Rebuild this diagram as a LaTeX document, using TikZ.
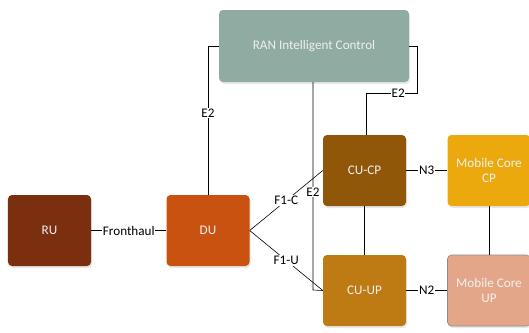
\documentclass[tikz,border=0pt]{standalone}
\usepackage{fontspec}
\setmainfont{Carlito}
\usetikzlibrary{shadows}
\definecolor{ruC}{HTML}{7A2F0E}
\definecolor{duC}{HTML}{C95211}
\definecolor{cpC}{HTML}{915709}
\definecolor{upC}{HTML}{BE7B14}
\definecolor{mccpC}{HTML}{EBA90D}
\definecolor{mcupC}{HTML}{E4A689}
\definecolor{ricC}{HTML}{8FABA2}
\tikzset{
  box/.style={rounded corners=4bp, minimum width=83bp, minimum height=71bp,
    text=white!94!black, align=center, font=\fontsize{13.2}{16}\selectfont,
    drop shadow={opacity=0.18, shadow xshift=1bp, shadow yshift=-2bp}},
  wire/.style={draw=black, line width=0.6pt},
  lbl/.style={fill=white, inner sep=0.8pt, text=black, font=\fontsize{13.2}{14}\selectfont}
}
\begin{document}
\begin{tikzpicture}[x=1bp,y=-1bp]
\useasboundingbox (0,0) rectangle (529,332);
% boxes
\node[box, fill=ricC, minimum width=190bp, minimum height=72bp] (ric) at (314,46) {RAN Intelligent Control};
\node[box, fill=ruC] (ru) at (49.5,230.5) {RU};
\node[box, fill=duC] (du) at (208,230.5) {DU};
\node[box, fill=cpC] (cucp) at (364.5,170.5) {CU-CP};
\node[box, fill=upC] (cuup) at (364.5,290.5) {CU-UP};
\node[box, fill=mccpC] (mccp) at (489,170.5) {Mobile Core\\CP};
\node[box, fill=mcupC, draw=black!45, line width=0.6pt] (mcup) at (489,290.5) {Mobile Core\\UP};
% helper points for the elbow routes
\coordinate (e2r1) at (417,46);
\coordinate (e2r2) at (417,93);
\coordinate (e2r3) at (366,93);
\coordinate (e2m) at (313,290);
% connectors
\draw[wire] (ru) -- node[lbl]{Fronthaul} (du);
\draw[wire] (du.north) |- node[lbl, pos=0.275]{E2} (ric.west);
\draw[wire] (ric.east) -- (e2r1) -- (e2r2) -- node[lbl, pos=0.37]{E2} (e2r3) -- (e2r3 |- cucp.north);
\draw[wire] (ric.south -| e2m) -- node[lbl, pos=0.53]{E2} (e2m) -- (cuup.west);
\draw[wire] (du.east) -- node[lbl]{F1-C} (cucp.west);
\draw[wire] (du.east) -- node[lbl]{F1-U} (cuup.west);
\draw[wire] (cucp) -- (cuup);
\draw[wire] (cucp) -- node[lbl]{N3} (mccp);
\draw[wire] (cuup) -- node[lbl]{N2} (mcup);
\draw[wire] (mccp) -- (mcup);
\end{tikzpicture}
\end{document}
